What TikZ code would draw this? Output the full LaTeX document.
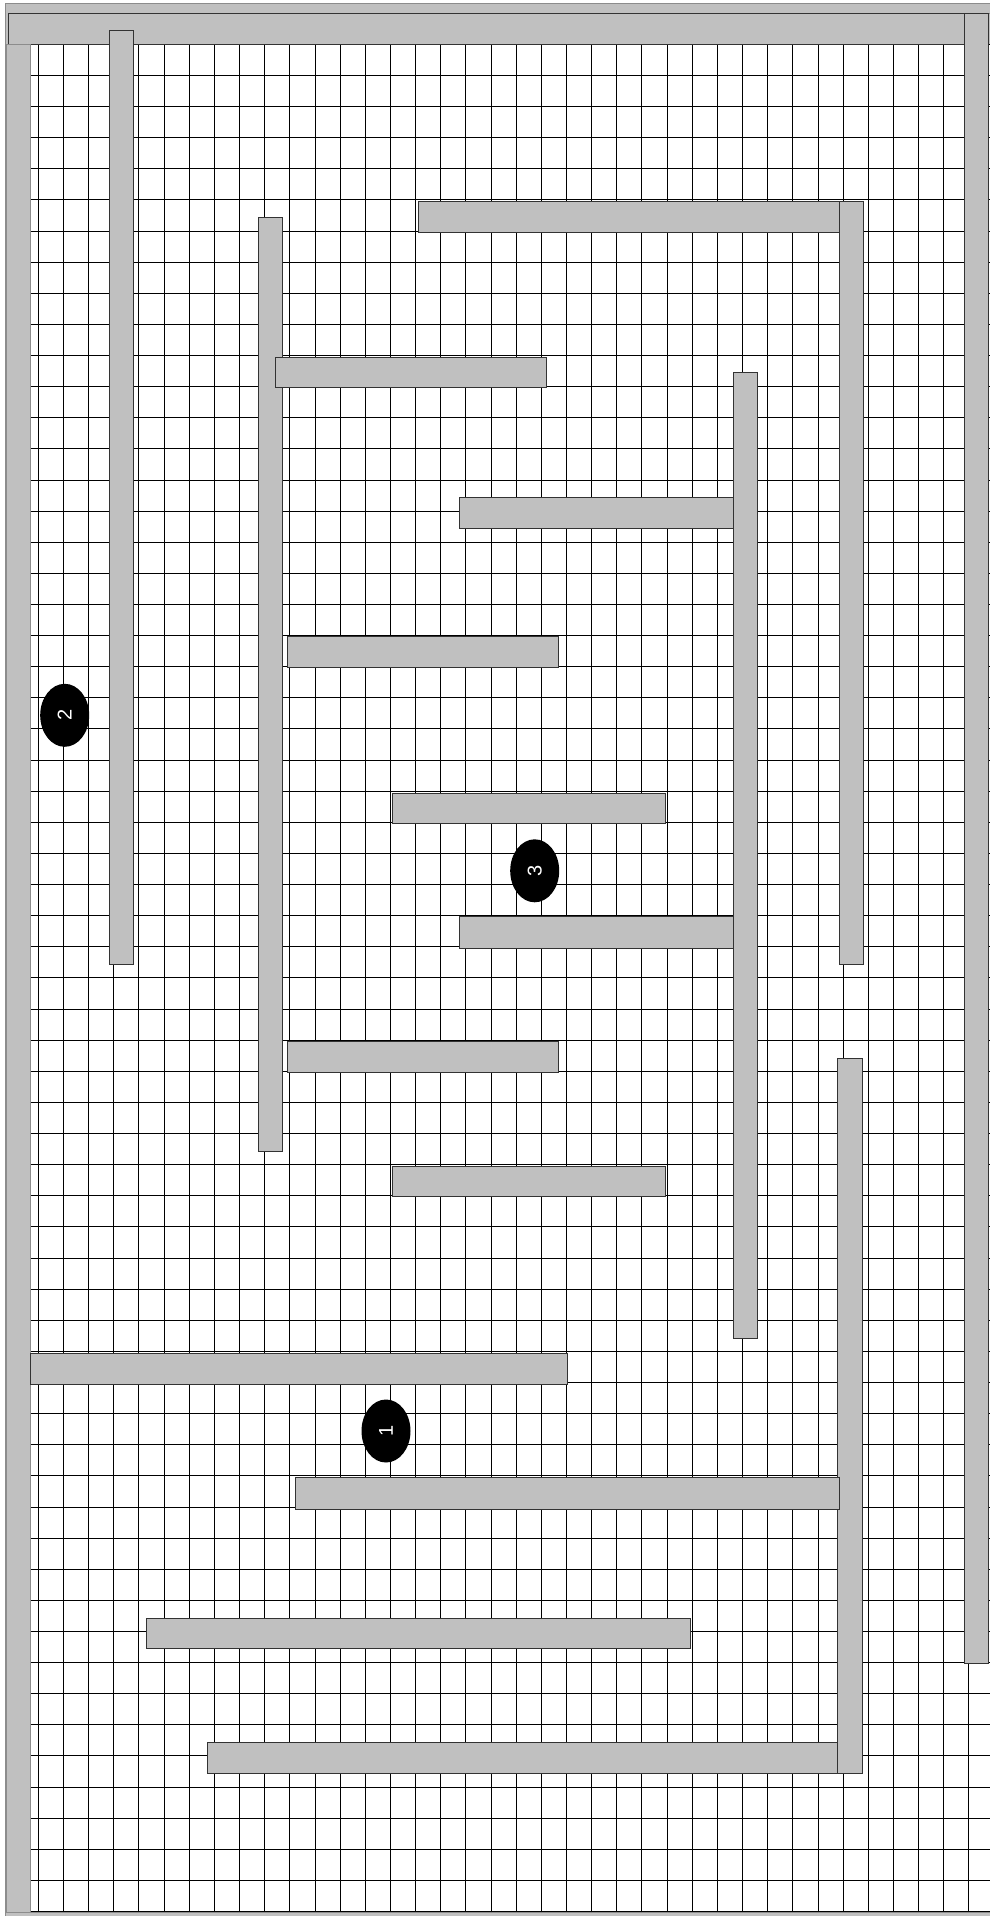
\documentclass[tikz,border=0pt]{standalone}
\usepackage{fontspec}
\usepackage{graphicx}
\setmainfont{Liberation Sans}
\usetikzlibrary{shapes.geometric}
\definecolor{wallgray}{HTML}{C0C0C0}
\begin{document}
\begin{tikzpicture}[x=1pt,y=-1pt,
  gridline/.style={draw=black, line width=0.9pt},
  wall/.style={fill=wallgray, draw=black!80, line width=0.8pt},
  outerwall/.style={fill=wallgray, draw=black!45, line width=0.8pt},
  marker/.style={ellipse, fill=black, draw=none, minimum width=49pt, minimum height=63pt, inner sep=0pt, text=white, font=\fontsize{20}{20}\selectfont}]
\useasboundingbox (0,0) rectangle (990,1916);
% outer gray frame
\fill[wallgray] (5.7,3.3) rectangle (1000,1930);
\draw[black!45, line width=0.8pt] (5.7,1930) -- (5.7,3.3) -- (1000,3.3);
% white floor
\fill[white] (30.7,44.3) rectangle (1000,1912.3);
% grid
\foreach \k in {0,...,37}
  \draw[gridline] ({38.3+25.15*\k},44.3) -- ({38.3+25.15*\k},1912.3);
\foreach \k in {0,...,60}
  \draw[gridline] (30.7,{44.3+31.12*\k}) -- (1000,{44.3+31.12*\k});
\draw[black!45, line width=0.8pt] (5.7,1912.3) -- (1000,1912.3);
% outer walls
\draw[wall] (8.3,13.3) rectangle (964,44.3);
\draw[outerwall] (6,44.3) rectangle (30.7,1912.3);
\draw[wall] (964,13.3) rectangle (988.5,1663.3);
\draw[black!45, line width=0.8pt] (988.5,13.3) -- (1000,13.3);
% inner walls
\draw[wall] (109.3,30.7) rectangle (133.7,964.3);
\draw[wall] (257.9,217.6) rectangle (282.3,1151.3);
\draw[wall] (418,201.7) rectangle (839.3,232.2);
\draw[wall] (839.3,201.7) rectangle (863.3,964.3);
\draw[wall] (275,356.9) rectangle (546.3,387.4);
\draw[wall] (733.3,372.8) rectangle (757.8,1338.3);
\draw[wall] (459.6,497.4) rectangle (733.3,528);
\draw[wall] (287.2,636.8) rectangle (558.5,667.3);
\draw[wall] (392.3,793.2) rectangle (664.9,823.8);
\draw[wall] (459.6,916.7) rectangle (733.3,948.4);
\draw[wall] (287.2,1041.3) rectangle (558.5,1071.9);
\draw[wall] (392.3,1166) rectangle (664.9,1196.5);
\draw[wall] (837.7,1058.4) rectangle (862.3,1773.7);
\draw[wall] (30.6,1353) rectangle (567.1,1384.8);
\draw[wall] (295.8,1477.7) rectangle (839,1509.4);
\draw[wall] (146.7,1618.2) rectangle (690.6,1648.8);
\draw[wall] (207.8,1742.7) rectangle (837.7,1773.7);
% markers
\node[marker] (m1) at (386,1431) {\rotatebox{90}{1}};
\node[marker] (m2) at (64.7,715.3) {\rotatebox{90}{2}};
\node[marker] (m3) at (534.7,870.8) {\rotatebox{90}{3}};
\end{tikzpicture}
\end{document}
